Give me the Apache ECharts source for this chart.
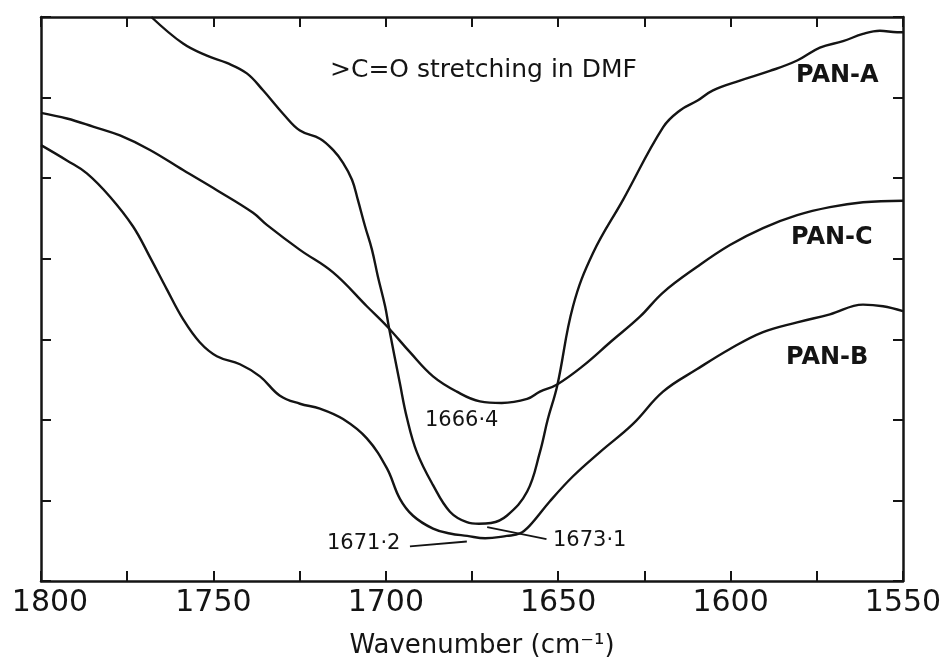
<!DOCTYPE html>
<html>
<head>
<meta charset="utf-8">
<title>C=O stretching in DMF</title>
<script src="https://cdn.jsdelivr.net/npm/echarts@6/dist/echarts.min.js"></script>
<style>
    html, body { margin: 0; padding: 0; background: #fff; }
    #chart { width: 946px; height: 664px; }
</style>
</head>
<body>
<div id="chart"></div>
<script>
// wavenumber (cm-1) and relative transmittance
var panAWave = [1768, 1758.8, 1751.9, 1746.1, 1740.3, 1735.6, 1729.8, 1724.9, 1719.1, 1715.3, 1712.4, 1709.8, 1708.1, 1706, 1704, 1702.3, 1700.2, 1699.1, 1695.9, 1693.9, 1691, 1686.3, 1681.4, 1676.5, 1673, 1669.5, 1664.9, 1659, 1655.3, 1653, 1650.3, 1645.7, 1639.9, 1631.2, 1619.6, 1614.7, 1609.7, 1605.1, 1597.3, 1588.6, 1580.7, 1574.1, 1567.4, 1561.6, 1556.7, 1551.7, 1550];
var panAVal = [7.0, 6.67, 6.52, 6.43, 6.30, 6.09, 5.80, 5.59, 5.49, 5.35, 5.19, 4.98, 4.73, 4.40, 4.11, 3.78, 3.41, 3.15, 2.45, 2.03, 1.60, 1.19, 0.86, 0.73, 0.71, 0.72, 0.81, 1.11, 1.60, 2.01, 2.42, 3.41, 4.07, 4.73, 5.63, 5.84, 5.96, 6.09, 6.21, 6.33, 6.46, 6.62, 6.70, 6.79, 6.83, 6.81, 6.81];

var panCWave = [1800, 1792.5, 1784.9, 1777.1, 1768.4, 1758.8, 1749, 1738.5, 1734.5, 1724.9, 1715.3, 1705.5, 1699.4, 1693, 1686.3, 1679.4, 1672.7, 1666.4, 1659, 1655.3, 1650.3, 1642.8, 1635, 1626.3, 1619.6, 1609.7, 1600.2, 1590.6, 1580.7, 1571.2, 1561.6, 1550];
var panCVal = [5.81, 5.74, 5.64, 5.53, 5.35, 5.10, 4.85, 4.57, 4.42, 4.11, 3.83, 3.41, 3.15, 2.84, 2.54, 2.35, 2.23, 2.21, 2.26, 2.35, 2.44, 2.67, 2.96, 3.28, 3.58, 3.90, 4.17, 4.38, 4.54, 4.64, 4.70, 4.72];

var panBWave = [1800, 1792.5, 1786.7, 1780, 1773.3, 1768.4, 1763.5, 1758.8, 1753.9, 1749, 1742.3, 1736.5, 1730.7, 1724.9, 1719.1, 1712.4, 1705.5, 1699.7, 1695.9, 1692.1, 1686.3, 1681.4, 1676.4, 1671.2, 1664.9, 1661.1, 1658.2, 1652.4, 1645.7, 1637.9, 1628.3, 1619.6, 1609.7, 1600.2, 1590.6, 1580.7, 1571.2, 1561.6, 1555.8, 1550];
var panBVal = [5.41, 5.22, 5.06, 4.77, 4.40, 4.02, 3.62, 3.25, 2.96, 2.79, 2.69, 2.54, 2.30, 2.20, 2.14, 2.01, 1.77, 1.40, 1.02, 0.81, 0.65, 0.59, 0.56, 0.53, 0.56, 0.59, 0.69, 0.99, 1.30, 1.60, 1.95, 2.35, 2.63, 2.88, 3.09, 3.21, 3.31, 3.43, 3.41, 3.35];

var seriesNames = ['PAN-A', 'PAN-C', 'PAN-B'];
var peakLabels = ['1673·1', '1666·4', '1671·2'];

function pairs(xs, ys) {
    return xs.map(function (x, i) { return [x, ys[i]]; });
}

var font = 'DejaVu Sans';
var ink = '#141414';

var chart = echarts.init(document.getElementById('chart'));

var xBase = {
    type: 'value',
    min: 1550,
    max: 1800,
    interval: 25,
    inverse: true,
    axisLine: { show: true, onZero: false, lineStyle: { color: ink, width: 2.5 } },
    axisTick: { show: true, inside: true, length: 10, lineStyle: { color: ink, width: 2 } },
    splitLine: { show: false }
};
var yBase = {
    type: 'value',
    min: 0,
    max: 7,
    interval: 1,
    axisLine: { show: true, onZero: false, lineStyle: { color: ink, width: 2.5 } },
    axisTick: { show: true, inside: true, length: 10, lineStyle: { color: ink, width: 2 } },
    axisLabel: { show: false },
    splitLine: { show: false }
};

function curve(name, data) {
    return {
        name: name,
        type: 'line',
        data: data,
        smooth: 0.4,
        symbol: 'none',
        clip: true,
        lineStyle: { color: ink, width: 2.4 }
    };
}

// leader lines from the peak labels
var leader = {
    silent: true,
    symbol: ['none', 'none'],
    label: { show: false },
    lineStyle: { color: ink, width: 1.8, type: 'solid' },
    data: [
        [{ coord: [1693, 0.43] }, { coord: [1676.5, 0.49] }],
        [{ coord: [1670.6, 0.67] }, { coord: [1653.4, 0.52] }]
    ]
};

var textStyle = { fill: ink, fontFamily: font, fontSize: 24, fontWeight: 'bold' };

var series = [
    curve(seriesNames[0], pairs(panAWave, panAVal)),
    curve(seriesNames[1], pairs(panCWave, panCVal)),
    curve(seriesNames[2], pairs(panBWave, panBVal))
];
series[2].markLine = leader;

chart.setOption({
    animation: false,
    backgroundColor: '#fff',
    grid: { left: 41, right: 43, top: 17, bottom: 81 },
    xAxis: [
        Object.assign({}, xBase, {
            position: 'bottom',
            name: 'Wavenumber (cm⁻¹)',
            nameLocation: 'middle',
            nameGap: 52,
            nameTextStyle: { color: ink, fontFamily: font, fontSize: 26, padding: [0, 0, 0, 20] },
            axisLabel: {
                show: true,
                margin: 7,
                color: ink,
                fontFamily: font,
                fontSize: 30,
                formatter: function (v) {
                    if (v === 1800) return '{edge|1800}';
                    return v % 50 === 0 ? String(v) : '';
                },
                rich: {
                    edge: { fontFamily: font, fontSize: 30, color: ink, padding: [0, 0, 0, 18] }
                }
            }
        }),
        Object.assign({}, xBase, { position: 'top', axisLabel: { show: false } })
    ],
    yAxis: [
        Object.assign({}, yBase, { position: 'left' }),
        Object.assign({}, yBase, { position: 'right' })
    ],
    series: series,
    graphic: [
        { type: 'text', left: 330, top: 58, style: Object.assign({}, textStyle, { text: '>C=O stretching in DMF', fontSize: 25, fontWeight: 'normal' }) },
        { type: 'text', left: 796, top: 64, style: Object.assign({}, textStyle, { text: seriesNames[0] }) },
        { type: 'text', left: 791, top: 226, style: Object.assign({}, textStyle, { text: seriesNames[1] }) },
        { type: 'text', left: 786, top: 346, style: Object.assign({}, textStyle, { text: seriesNames[2] }) },
        { type: 'text', left: 425, top: 410, style: Object.assign({}, textStyle, { text: peakLabels[1], fontSize: 21, fontWeight: 'normal' }) },
        { type: 'text', left: 327, top: 533, style: Object.assign({}, textStyle, { text: peakLabels[2], fontSize: 21, fontWeight: 'normal' }) },
        { type: 'text', left: 553, top: 530, style: Object.assign({}, textStyle, { text: peakLabels[0], fontSize: 21, fontWeight: 'normal' }) }
    ]
});
</script>
</body>
</html>
